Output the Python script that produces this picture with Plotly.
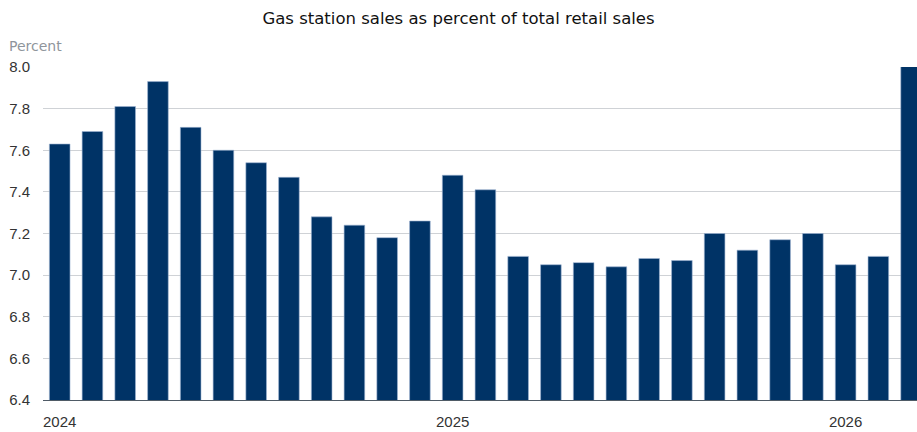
import plotly.graph_objects as go

months = [f"{y}-{m:02d}" for y in (2024, 2025) for m in range(1, 13)] + ["2026-01", "2026-02", "2026-03"]
values = [7.63, 7.69, 7.81, 7.93, 7.71, 7.60, 7.54, 7.47, 7.28, 7.24, 7.18, 7.26,
          7.48, 7.41, 7.09, 7.05, 7.06, 7.04, 7.08, 7.07, 7.20, 7.12, 7.17, 7.20,
          7.05, 7.09, 8.10]
tick_vals = ["2024-01", "2025-01", "2026-01"]
tick_text = ["2024", "2025", "2026"]
y_ticks = [6.4, 6.6, 6.8, 7.0, 7.2, 7.4, 7.6, 7.8, 8.0]

fig = go.Figure(go.Bar(
    x=months, y=values,
    marker=dict(color="#003366", line=dict(color="#9fb6d4", width=0.6)),
    hoverinfo="x+y",
))

fig.update_layout(
    width=917, height=432,
    margin=dict(l=43, r=0, t=67, b=32),
    plot_bgcolor="white", paper_bgcolor="white",
    bargap=0.37,
    showlegend=False,
    title=dict(text="Gas station sales as percent of total retail sales",
               x=0.5, xref="container", xanchor="center", y=0.958, yanchor="middle",
               font=dict(family="DejaVu Sans", size=16.5, color="#111111")),
    font=dict(family="Liberation Sans, Arial", size=15, color="#333333"),
)
fig.update_xaxes(
    type="category", range=[-0.51, 26.18],
    tickvals=tick_vals, ticktext=tick_text,
    showgrid=False, showline=True, linecolor="#4f5b66", linewidth=1,
    ticks="", ticklabelstandoff=8,
    tickfont=dict(family="Liberation Sans, Arial", size=15, color="#333333"),
)
fig.update_yaxes(
    range=[6.4, 8.0], tickvals=y_ticks, tickformat=".1f",
    showgrid=True, gridcolor="#cfd2d6", gridwidth=1,
    zeroline=False, showline=False, ticks="", ticklabelstandoff=12,
    tickfont=dict(family="Liberation Sans, Arial", size=15, color="#333333"),
)
fig.add_annotation(
    text="Percent", xref="paper", yref="paper", x=0, y=1,
    xanchor="left", yanchor="bottom", xshift=-36, yshift=11, showarrow=False,
    font=dict(family="DejaVu Sans", size=14, color="#8f959c"),
)

fig.write_html("out.html")
